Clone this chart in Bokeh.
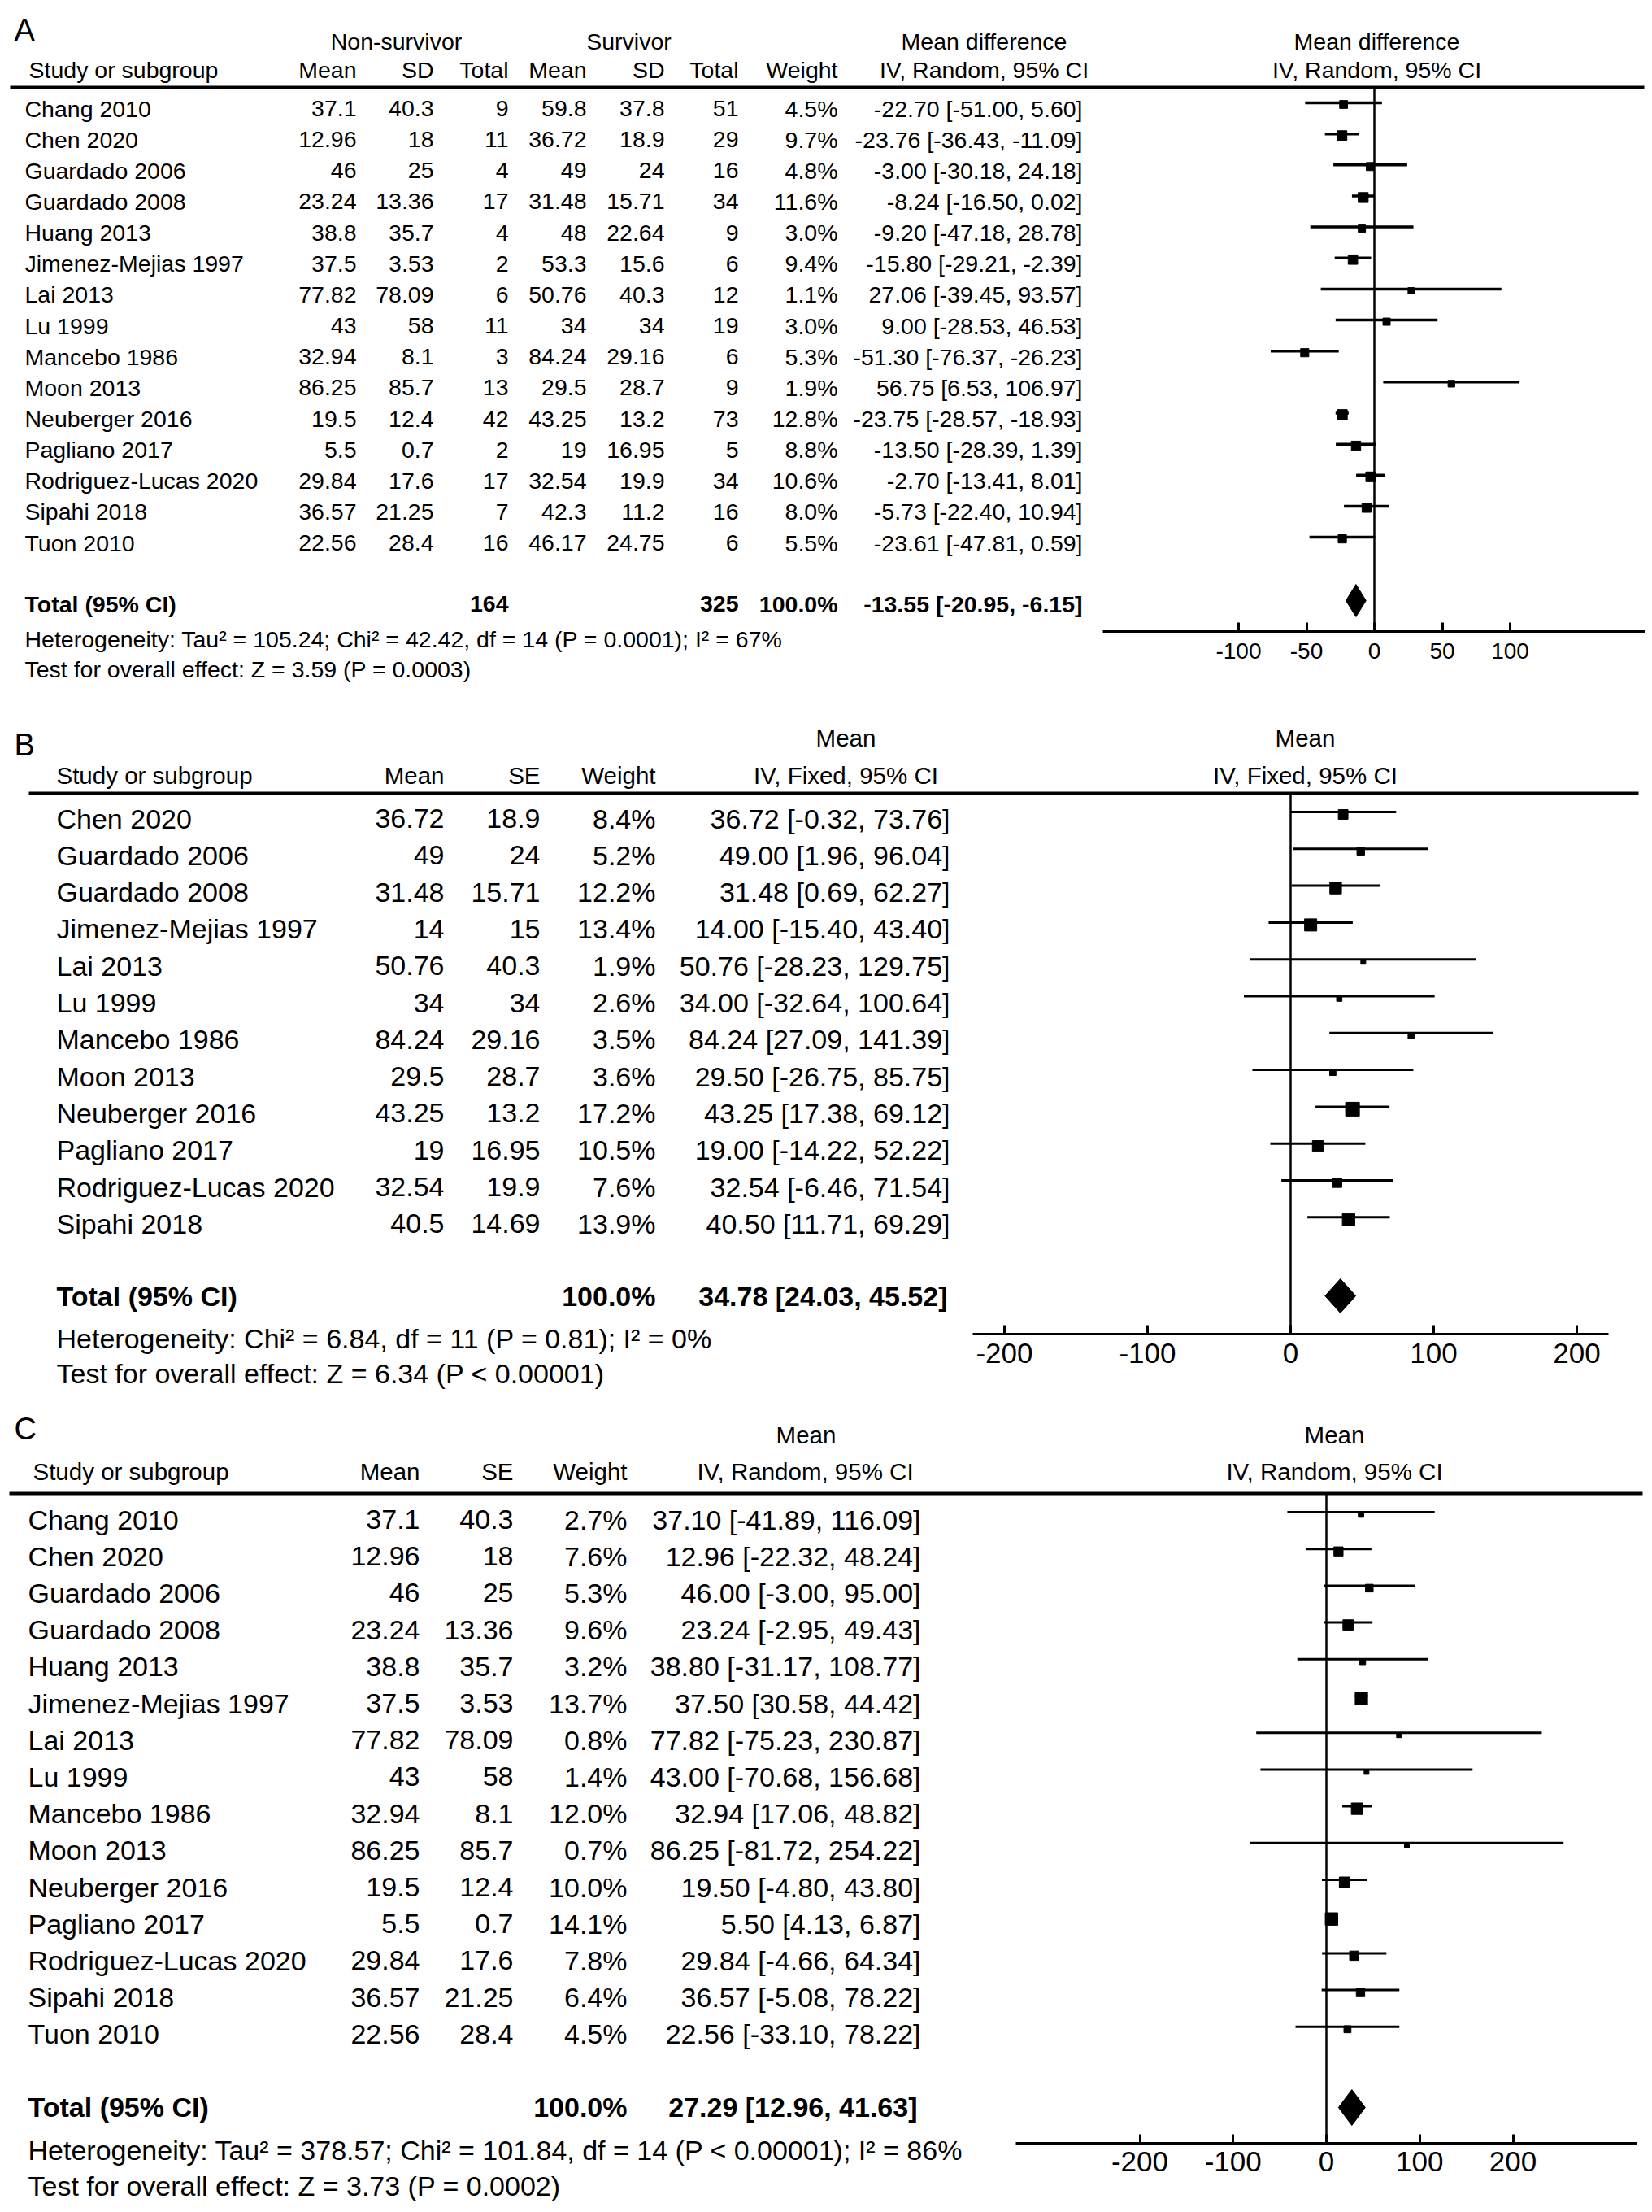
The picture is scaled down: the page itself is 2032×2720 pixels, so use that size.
from math import sqrt
from bokeh.plotting import figure
from bokeh.models import Range1d, LinearAxis, FixedTicker, ColumnDataSource
from bokeh.core.properties import value
from bokeh.embed import file_html
from bokeh.resources import INLINE

# ---------------- data: panel A ----------------
studies_A = ["Chang 2010", "Chen 2020", "Guardado 2006", "Guardado 2008", "Huang 2013",
             "Jimenez-Mejias 1997", "Lai 2013", "Lu 1999", "Mancebo 1986", "Moon 2013",
             "Neuberger 2016", "Pagliano 2017", "Rodriguez-Lucas 2020", "Sipahi 2018", "Tuon 2010"]
ns_mean_A = ["37.1", "12.96", "46", "23.24", "38.8", "37.5", "77.82", "43", "32.94", "86.25",
             "19.5", "5.5", "29.84", "36.57", "22.56"]
ns_sd_A = ["40.3", "18", "25", "13.36", "35.7", "3.53", "78.09", "58", "8.1", "85.7",
           "12.4", "0.7", "17.6", "21.25", "28.4"]
ns_n_A = [9, 11, 4, 17, 4, 2, 6, 11, 3, 13, 42, 2, 17, 7, 16]
s_mean_A = ["59.8", "36.72", "49", "31.48", "48", "53.3", "50.76", "34", "84.24", "29.5",
            "43.25", "19", "32.54", "42.3", "46.17"]
s_sd_A = ["37.8", "18.9", "24", "15.71", "22.64", "15.6", "40.3", "34", "29.16", "28.7",
          "13.2", "16.95", "19.9", "11.2", "24.75"]
s_n_A = [51, 29, 16, 34, 9, 6, 12, 19, 6, 9, 73, 5, 34, 16, 6]
weight_A = [4.5, 9.7, 4.8, 11.6, 3.0, 9.4, 1.1, 3.0, 5.3, 1.9, 12.8, 8.8, 10.6, 8.0, 5.5]
md_A = [-22.70, -23.76, -3.00, -8.24, -9.20, -15.80, 27.06, 9.00, -51.30, 56.75,
        -23.75, -13.50, -2.70, -5.73, -23.61]
lo_A = [-51.00, -36.43, -30.18, -16.50, -47.18, -29.21, -39.45, -28.53, -76.37, 6.53,
        -28.57, -28.39, -13.41, -22.40, -47.81]
hi_A = [5.60, -11.09, 24.18, 0.02, 28.78, -2.39, 93.57, 46.53, -26.23, 106.97,
        -18.93, 1.39, 8.01, 10.94, 0.59]
total_A = dict(n_ns=164, n_s=325, w=100.0, est=-13.55, lo=-20.95, hi=-6.15)
het_A = "Heterogeneity: Tau\u00b2 = 105.24; Chi\u00b2 = 42.42, df = 14 (P = 0.0001); I\u00b2 = 67%"
test_A = "Test for overall effect: Z = 3.59 (P = 0.0003)"
ticks_A = [-100, -50, 0, 50, 100]

# ---------------- data: panel B ----------------
studies_B = ["Chen 2020", "Guardado 2006", "Guardado 2008", "Jimenez-Mejias 1997", "Lai 2013",
             "Lu 1999", "Mancebo 1986", "Moon 2013", "Neuberger 2016", "Pagliano 2017",
             "Rodriguez-Lucas 2020", "Sipahi 2018"]
mean_B = ["36.72", "49", "31.48", "14", "50.76", "34", "84.24", "29.5", "43.25", "19", "32.54", "40.5"]
se_B = ["18.9", "24", "15.71", "15", "40.3", "34", "29.16", "28.7", "13.2", "16.95", "19.9", "14.69"]
weight_B = [8.4, 5.2, 12.2, 13.4, 1.9, 2.6, 3.5, 3.6, 17.2, 10.5, 7.6, 13.9]
est_B = [36.72, 49.00, 31.48, 14.00, 50.76, 34.00, 84.24, 29.50, 43.25, 19.00, 32.54, 40.50]
lo_B = [-0.32, 1.96, 0.69, -15.40, -28.23, -32.64, 27.09, -26.75, 17.38, -14.22, -6.46, 11.71]
hi_B = [73.76, 96.04, 62.27, 43.40, 129.75, 100.64, 141.39, 85.75, 69.12, 52.22, 71.54, 69.29]
total_B = dict(w=100.0, est=34.78, lo=24.03, hi=45.52)
het_B = "Heterogeneity: Chi\u00b2 = 6.84, df = 11 (P = 0.81); I\u00b2 = 0%"
test_B = "Test for overall effect: Z = 6.34 (P < 0.00001)"
ticks_B = [-200, -100, 0, 100, 200]

# ---------------- data: panel C ----------------
studies_C = list(studies_A)
mean_C = ["37.1", "12.96", "46", "23.24", "38.8", "37.5", "77.82", "43", "32.94", "86.25",
          "19.5", "5.5", "29.84", "36.57", "22.56"]
se_C = ["40.3", "18", "25", "13.36", "35.7", "3.53", "78.09", "58", "8.1", "85.7",
        "12.4", "0.7", "17.6", "21.25", "28.4"]
weight_C = [2.7, 7.6, 5.3, 9.6, 3.2, 13.7, 0.8, 1.4, 12.0, 0.7, 10.0, 14.1, 7.8, 6.4, 4.5]
est_C = [37.10, 12.96, 46.00, 23.24, 38.80, 37.50, 77.82, 43.00, 32.94, 86.25,
         19.50, 5.50, 29.84, 36.57, 22.56]
lo_C = [-41.89, -22.32, -3.00, -2.95, -31.17, 30.58, -75.23, -70.68, 17.06, -81.72,
        -4.80, 4.13, -4.66, -5.08, -33.10]
hi_C = [116.09, 48.24, 95.00, 49.43, 108.77, 44.42, 230.87, 156.68, 48.82, 254.22,
        43.80, 6.87, 64.34, 78.22, 78.22]
total_C = dict(w=100.0, est=27.29, lo=12.96, hi=41.63)
het_C = "Heterogeneity: Tau\u00b2 = 378.57; Chi\u00b2 = 101.84, df = 14 (P < 0.00001); I\u00b2 = 86%"
test_C = "Test for overall effect: Z = 3.73 (P = 0.0002)"
ticks_C = [-200, -100, 0, 100, 200]

# ---------------- figure ----------------
FONT = "Liberation Sans"
W, H = 2024, 2712
X0, Y0 = 0, 0  # the figure sits at the page origin: layout coordinates == page pixels

p = figure(width=W, height=H, output_backend="svg", toolbar_location=None,
           x_range=Range1d(X0, X0 + W), y_range=Range1d(Y0 + H, Y0),
           x_axis_location=None, y_axis_location=None, min_border=0,
           outline_line_color=None, background_fill_color="white", border_fill_color="white")
p.grid.visible = False

# effect scales for the three forest plots (zero position and px per unit)
forest = {
    "effA": dict(zero=1690, ppu=1.67),
    "effB": dict(zero=1587, ppu=1.76),
    "effC": dict(zero=1631, ppu=1.1475),
}
p.extra_x_ranges = {k: Range1d((X0 - v["zero"]) / v["ppu"], (X0 + W - v["zero"]) / v["ppu"])
                    for k, v in forest.items()}


def txt(xs, ys, texts, align="left", size=28.5, bold=False):
    src = ColumnDataSource(dict(x=list(xs), y=list(ys), t=[str(t) for t in texts]))
    p.text(x="x", y="y", text="t", source=src, text_align=align, text_baseline="middle",
           text_font=value(FONT), text_font_size=value(f"{size}px"),
           text_font_style="bold" if bold else "normal", text_color="black")


def rule(x0, x1, y, width=4):
    p.segment(x0=[x0], y0=[y], x1=[x1], y1=[y], line_color="black", line_width=width)


def ci_text(e, l, h):
    return f"{e:.2f} [{l:.2f}, {h:.2f}]"


def forest_plot(rng, ys, est, lo, hi, weights, size_fn, top, axis_y, ticks, bounds,
                tot, tot_y, dia_h, tick_size, standoff, lw=3, line_dy=-7, sq_dy=-4):
    # zero line
    p.segment(x0=[0], y0=[top], x1=[0], y1=[axis_y], x_range_name=rng,
              line_color="black", line_width=2.5)
    src = ColumnDataSource(dict(lo=lo, hi=hi, est=est,
                                yl=[y + line_dy for y in ys], ys=[y + sq_dy for y in ys],
                                sz=[size_fn(w) for w in weights]))
    p.segment(x0="lo", y0="yl", x1="hi", y1="yl", source=src, x_range_name=rng,
              line_color="black", line_width=lw)
    p.scatter(x="est", y="ys", size="sz", marker="square", source=src, x_range_name=rng,
              fill_color="black", line_color="black")
    # pooled diamond
    p.patch(x=[tot["lo"], tot["est"], tot["hi"], tot["est"]],
            y=[tot_y, tot_y - dia_h / 2, tot_y, tot_y + dia_h / 2],
            x_range_name=rng, fill_color="black", line_color="black")
    ax = LinearAxis(x_range_name=rng, fixed_location=axis_y, bounds=bounds,
                    ticker=FixedTicker(ticks=ticks, minor_ticks=[]),
                    major_label_overrides={t: str(t) for t in ticks},
                    major_tick_in=11, major_tick_out=0, minor_tick_in=0, minor_tick_out=0,
                    axis_line_width=3, axis_line_color="black",
                    major_tick_line_width=3, major_tick_line_color="black",
                    major_label_text_font=FONT, major_label_text_font_size=f"{tick_size}px",
                    major_label_text_color="black", major_label_standoff=standoff)
    p.add_layout(ax, "below")


# ================= Panel A =================
nA = len(studies_A)
yA = [133 + 38.15 * i for i in range(nA)]
fA = 28.5
txt([17], [36], ["A"], size=38)
txt([487, 773, 1210, 1693], [50] * 4,
    ["Non-survivor", "Survivor", "Mean difference", "Mean difference"], "center", fA)
txt([35], [85], ["Study or subgroup"], "left", fA)
txt([438, 533, 625, 721, 817, 908, 1030], [85] * 7,
    ["Mean", "SD", "Total", "Mean", "SD", "Total", "Weight"], "right", fA)
txt([1210, 1693], [85] * 2, ["IV, Random, 95% CI"] * 2, "center", fA)
rule(12, 2022, 107, 4)
txt([30] * nA, yA, studies_A, "left", fA)
txt([438] * nA, yA, ns_mean_A, "right", fA)
txt([533] * nA, yA, ns_sd_A, "right", fA)
txt([625] * nA, yA, ns_n_A, "right", fA)
txt([721] * nA, yA, s_mean_A, "right", fA)
txt([817] * nA, yA, s_sd_A, "right", fA)
txt([908] * nA, yA, s_n_A, "right", fA)
txt([1030] * nA, yA, [f"{w:.1f}%" for w in weight_A], "right", fA)
txt([1331] * nA, yA, [ci_text(e, l, h) for e, l, h in zip(md_A, lo_A, hi_A)], "right", fA)
tyA = 742
txt([30], [tyA], ["Total (95% CI)"], "left", fA, bold=True)
txt([625, 908, 1030], [tyA] * 3,
    [total_A["n_ns"], total_A["n_s"], f"{total_A['w']:.1f}%"], "right", fA, bold=True)
txt([1331], [tyA], [ci_text(total_A["est"], total_A["lo"], total_A["hi"])], "right", fA, bold=True)
txt([30, 30], [785, 822], [het_A, test_A], "left", fA)
forest_plot("effA", yA, md_A, lo_A, hi_A, weight_A, lambda w: 5.5 + 2.0 * sqrt(w),
            top=107, axis_y=776, ticks=ticks_A, bounds=(-200, 200), tot=total_A,
            tot_y=738, dia_h=40, tick_size=28, standoff=14, lw=3.5, line_dy=-7, sq_dy=-5)

# ================= Panel B =================
nB = len(studies_B)
yB = [1006 + 45.3 * i for i in range(nB)]
fB = 34
fBh = 29.5
txt([17], [915], ["B"], size=38)
txt([1040, 1605], [907] * 2, ["Mean", "Mean"], "center", fBh)
txt([69], [953], ["Study or subgroup"], "left", fBh)
txt([546, 664, 806], [953] * 3, ["Mean", "SE", "Weight"], "right", fBh)
txt([1040, 1605], [953] * 2, ["IV, Fixed, 95% CI"] * 2, "center", fBh)
rule(35, 2015, 975, 4)
txt([69] * nB, yB, studies_B, "left", fB)
txt([546] * nB, yB, mean_B, "right", fB)
txt([664] * nB, yB, se_B, "right", fB)
txt([806] * nB, yB, [f"{w:.1f}%" for w in weight_B], "right", fB)
txt([1168] * nB, yB, [ci_text(e, l, h) for e, l, h in zip(est_B, lo_B, hi_B)], "right", fB)
tyB = 1593
txt([69], [tyB], ["Total (95% CI)"], "left", fB, bold=True)
txt([806], [tyB], [f"{total_B['w']:.1f}%"], "right", fB, bold=True)
txt([1165], [tyB], [ci_text(total_B["est"], total_B["lo"], total_B["hi"])], "right", fB, bold=True)
txt([69, 69], [1645, 1688], [het_B, test_B], "left", fB)
forest_plot("effB", yB, est_B, lo_B, hi_B, weight_B, lambda w: max(6.0, 4.1 * sqrt(w)),
            top=975, axis_y=1640, ticks=ticks_B, bounds=(-222, 222), tot=total_B,
            tot_y=1593, dia_h=42, tick_size=35, standoff=11, lw=3, line_dy=-8, sq_dy=-5)

# ================= Panel C =================
nC = len(studies_C)
yC = [1868 + 45.2 * i for i in range(nC)]
fC = 34
fCh = 29.5
txt([17], [1756], ["C"], size=38)
txt([991, 1641], [1764] * 2, ["Mean", "Mean"], "center", fCh)
txt([40], [1809], ["Study or subgroup"], "left", fCh)
txt([516, 631, 771], [1809] * 3, ["Mean", "SE", "Weight"], "right", fCh)
txt([990, 1641], [1809] * 2, ["IV, Random, 95% CI"] * 2, "center", fCh)
rule(11, 2020, 1836, 4)
txt([34] * nC, yC, studies_C, "left", fC)
txt([516] * nC, yC, mean_C, "right", fC)
txt([631] * nC, yC, se_C, "right", fC)
txt([771] * nC, yC, [f"{w:.1f}%" for w in weight_C], "right", fC)
txt([1132] * nC, yC, [ci_text(e, l, h) for e, l, h in zip(est_C, lo_C, hi_C)], "right", fC)
tyC = 2590
txt([34], [tyC], ["Total (95% CI)"], "left", fC, bold=True)
txt([771], [tyC], [f"{total_C['w']:.1f}%"], "right", fC, bold=True)
txt([1128], [tyC], [ci_text(total_C["est"], total_C["lo"], total_C["hi"])], "right", fC, bold=True)
txt([34, 34], [2643, 2687], [het_C, test_C], "left", fC)
forest_plot("effC", yC, est_C, lo_C, hi_C, weight_C, lambda w: max(6.0, 4.1 * sqrt(w)),
            top=1836, axis_y=2635, ticks=ticks_C, bounds=(-333, 333), tot=total_C,
            tot_y=2591, dia_h=44, tick_size=35, standoff=10, lw=3, line_dy=-9, sq_dy=-6)

open("out.html", "w").write(file_html(p, INLINE))
